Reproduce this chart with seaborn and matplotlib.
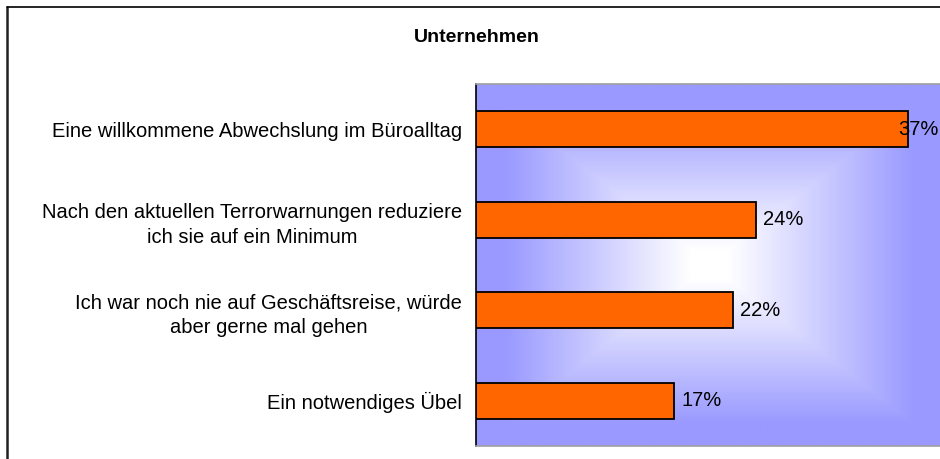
import numpy as np
import matplotlib.pyplot as plt
import seaborn as sns
from matplotlib.colors import LinearSegmentedColormap
from matplotlib.lines import Line2D

# Data
labels = [
    'Eine willkommene Abwechslung im Büroalltag',
    'Nach den aktuellen Terrorwarnungen reduziere\nich sie auf ein Minimum',
    'Ich war noch nie auf Geschäftsreise, würde\naber gerne mal gehen',
    'Ein notwendiges Übel',
]
values = [37, 24, 22, 17]
title = 'Unternehmen'

sns.set_style('white')
plt.rcParams['font.family'] = ['Liberation Sans', 'DejaVu Sans']

fig = plt.figure(figsize=(9.4, 4.59), dpi=100)
ax = fig.add_axes([476 / 940, 13 / 459, (943 - 476) / 940, (446 - 84) / 459])

sns.barplot(x=values, y=labels, color='#FF6600', edgecolor='black',
            linewidth=1.3, width=0.4, saturation=1, ax=ax, zorder=3)

# rectangular "from center" gradient background
n = 400
u = np.linspace(-1, 1, n)
U, V = np.meshgrid(u, u)
T = np.maximum(np.abs(U), np.abs(V))
cmap = LinearSegmentedColormap.from_list('grad', ['#FFFFFF', '#9999FF'])
ax.imshow(T, extent=(0, 1, 0, 1), transform=ax.transAxes, cmap=cmap,
          vmin=0.08, vmax=0.88, aspect='auto', zorder=0, interpolation='bilinear')

ax.set_xlim(0, 40)
ax.set_ylim(3.5, -0.5)
ax.set_xticks([])
ax.set_xlabel('')
ax.set_ylabel('')

ax.set_yticks(np.arange(-0.5, 4, 1), minor=True)
ax.tick_params(axis='y', which='major', length=0, pad=10, labelsize=14.5, labelcolor='black')
ax.tick_params(axis='y', which='minor', length=6, width=1, color='#404040', direction='out')
for t in ax.get_yticklabels():
    t.set_multialignment('center')
    t.set_linespacing(1.4)

# value labels; the first sits on the bar end so it stays inside the picture
texts = ax.bar_label(ax.containers[0], labels=[f'{v}%' for v in values], padding=5,
                     fontsize=14.5, color='black')
texts[0].set_position((-7, 0))
for t in texts:
    t.set_zorder(5)

ax.spines['left'].set_color('black')
ax.spines['left'].set_linewidth(1.2)
for s in ['top', 'bottom']:
    ax.spines[s].set_color('#A0A0A0')
    ax.spines[s].set_linewidth(1.2)
ax.spines['right'].set_visible(False)

fig.text(477 / 940, 1 - 37 / 459, title, fontsize=14, fontweight='bold',
         ha='center', va='center', color='black')

# outer chart border (left and top visible)
fig.add_artist(Line2D([7 / 940, 7 / 940], [0, 1 - 7 / 459], transform=fig.transFigure,
                      color='#202020', lw=1.8))
fig.add_artist(Line2D([7 / 940, 1], [1 - 7 / 459, 1 - 7 / 459], transform=fig.transFigure,
                      color='black', lw=1.2))

fig.savefig('out.png', dpi=100)
